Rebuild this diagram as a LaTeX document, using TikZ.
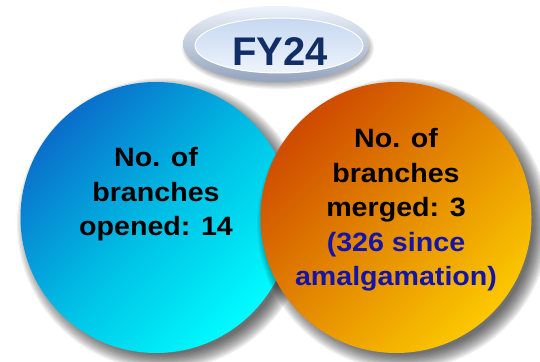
\documentclass[tikz,border=0pt]{standalone}
\usepackage{fontspec}
\setmainfont{Liberation Sans}
\newfontfamily\circfont[FakeStretch=1.08]{Liberation Sans}
\usetikzlibrary{shapes.geometric}
\definecolor{openeddark}{HTML}{0A6ECA}
\definecolor{openedmid}{HTML}{00BEE4}
\definecolor{openedlight}{HTML}{00FCFF}
\definecolor{mergeddark}{HTML}{CE4A00}
\definecolor{mergedmid}{HTML}{E48A00}
\definecolor{mergedlight}{HTML}{FCC800}
\definecolor{sinceblue}{HTML}{1414A8}
\definecolor{fynavy}{HTML}{112F66}
\definecolor{rimtop}{HTML}{EEF3FB}
\definecolor{rimbottom}{HTML}{92A3BC}
\definecolor{facetop}{HTML}{C6D8F1}
\definecolor{facebottom}{HTML}{EEF4FC}
\tikzset{
  bubble/.style={circle,minimum size=271pt,inner sep=0pt},
  bubbletext/.style={align=center,inner sep=0pt,font=\circfont\bfseries\fontsize{26.5}{34.5}\selectfont},
  softshade/.style={black,opacity=0.06},
}
\begin{document}
\begin{tikzpicture}[x=1pt,y=-1pt]
\useasboundingbox[fill=white] (0,0) rectangle (540,361);
\coordinate (openedsh) at (163,224);
\coordinate (mergedsh) at (403,224);
\coordinate (fysh) at (278,48);
\foreach \k in {0,...,12}
  \fill[softshade] (openedsh) circle [radius=146-1.3*\k];
\node (opened) at (156,217.5) [bubble,top color=openeddark,bottom color=openedlight,middle color=openedmid,shading angle=45] {};
\foreach \k in {0,...,12}
  \fill[softshade] (mergedsh) circle [radius=146-1.3*\k];
\node (merged) at (396,217.5) [bubble,top color=mergeddark,bottom color=mergedlight,middle color=mergedmid,shading angle=45] {};
\node (openedtext) at (156,194.6) [bubbletext] {No. of\\branches\\opened: 14};
\node (mergedtext) at (396,209.8) [bubbletext] {No. of\\branches\\merged: 3\\{\color{sinceblue}(326 since}\\{\color{sinceblue}amalgamation)}};
\foreach \k in {0,...,5}
  \fill[softshade] (fysh) ellipse [x radius=96-1.2*\k,y radius=41-1.2*\k];
\node (fyrim) at (276,44) [ellipse,minimum width=186pt,minimum height=76pt,inner sep=0pt,top color=rimtop,bottom color=rimbottom] {};
\node (fyface) at (279,45.5) [ellipse,minimum width=168pt,minimum height=55pt,inner sep=0pt,top color=facetop,bottom color=facebottom,draw=white,line width=1pt] {};
\node (fylabel) at (280,51.6) [inner sep=0pt,text=fynavy,font=\bfseries\fontsize{40}{44}\selectfont] {FY24};
\end{tikzpicture}
\end{document}
